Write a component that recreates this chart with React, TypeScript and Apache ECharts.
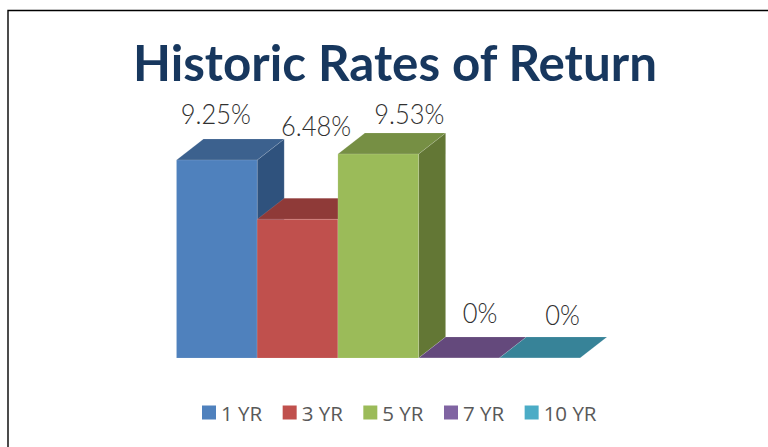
import React, { useEffect, useRef } from "react";
import * as echarts from "echarts";

const categories = ["1 YR", "3 YR", "5 YR", "7 YR", "10 YR"];
const values = [9.25, 6.48, 9.53, 0, 0];
const valueLabels = ["9.25%", "6.48%", "9.53%", "0%", "0%"];
const frontColors = ["#4F81BD", "#C0504D", "#9BBB59", "#8064A2", "#4BACC6"];
const topColors = ["#3C618E", "#8F3A38", "#768F44", "#64497C", "#378398"];
const sideColors = ["#2F527D", "#7E3230", "#637735", "#54406B", "#2F7285"];
const labelShiftX = [-1, 18.5, 31, 21, 23];
const labelShiftY = [-47, -94, -41, -45, -43];

const DEPTH_X = 27;
const DEPTH_Y = -21;

function renderBar(index: number) {
  return (_params: any, api: any) => {
    const top = api.coord([api.value(0), api.value(1)]);
    const base = api.coord([api.value(0), 0]);
    const width = api.size([1, 0])[0];
    const x0 = top[0] - width / 2;
    const x1 = top[0] + width / 2;
    const edge = { stroke: "rgba(255,255,255,0.15)", lineWidth: 0.8 };
    return {
      type: "group",
      children: [
        {
          type: "polygon",
          shape: {
            points: [
              [x1, top[1]],
              [x1 + DEPTH_X, top[1] + DEPTH_Y],
              [x1 + DEPTH_X, base[1] + DEPTH_Y],
              [x1, base[1]],
            ],
          },
          style: { fill: sideColors[index], ...edge },
        },
        {
          type: "polygon",
          shape: {
            points: [
              [x0, top[1]],
              [x0 + DEPTH_X, top[1] + DEPTH_Y],
              [x1 + DEPTH_X, top[1] + DEPTH_Y],
              [x1, top[1]],
            ],
          },
          style: { fill: topColors[index], ...edge },
        },
        {
          type: "rect",
          shape: { x: x0, y: top[1], width, height: base[1] - top[1] },
          style: { fill: frontColors[index], ...edge },
        },
        {
          type: "text",
          x: top[0] + labelShiftX[index],
          y: top[1] + labelShiftY[index],
          scaleX: 0.91,
          style: {
            text: valueLabels[index],
            fill: "#303030",
            align: "center",
            verticalAlign: "middle",
            font: '300 28px "Lato"',
          },
        },
      ],
    };
  };
}

export default function App() {
  const ref = useRef<HTMLDivElement>(null);
  useEffect(() => {
    document.body.style.margin = "0";
    const chart = echarts.init(ref.current!, undefined, { renderer: "svg" });
    chart.setOption({
      animation: false,
      backgroundColor: "#ffffff",
      title: {
        text: "Historic Rates of Return",
        left: 390,
        textAlign: "center",
        top: 32,
        textStyle: {
          fontFamily: "Lato",
          fontWeight: "bold",
          fontSize: 49.3,
          color: "#17375E",
        },
      },
      grid: { left: 176.5, right: 188, top: 144, bottom: 89 },
      xAxis: { type: "category", data: categories, show: false },
      yAxis: { type: "value", min: 0, max: 10, show: false },
      legend: {
        left: 202,
        top: 402,
        padding: 0,
        itemWidth: 14,
        itemHeight: 14,
        itemGap: 20.5,
        icon: "rect",
        data: categories,
        textStyle: { fontFamily: "Open Sans", fontSize: 20.5, color: "#595959" },
      },
      graphic: [
        {
          type: "polyline",
          shape: { points: [[8, 447], [8, 10.5], [768, 10.5]] },
          style: { fill: "none", stroke: "#000000", lineWidth: 1.4 },
        },
      ],
      series: categories.map((name, i) => ({
        type: "custom",
        name,
        renderItem: renderBar(i),
        itemStyle: { color: frontColors[i] },
        encode: { x: 0, y: 1 },
        data: [[i, values[i]]],
      })),
    });
    return () => chart.dispose();
  }, []);
  return <div ref={ref} style={{ width: 768, height: 447 }} />;
}
